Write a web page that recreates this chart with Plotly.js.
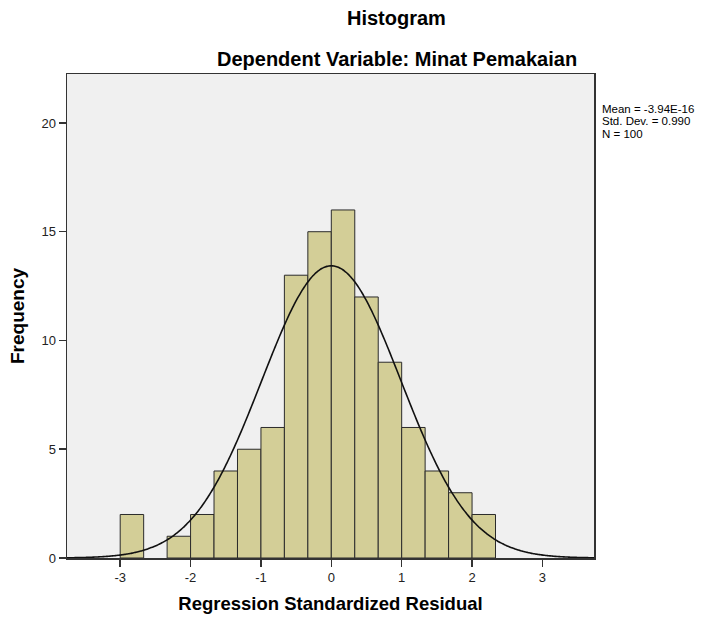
<!DOCTYPE html>
<html>
<head>
<meta charset="utf-8">
<script src="https://cdn.plot.ly/plotly-3.0.1.min.js"></script>
<style>body{margin:0;background:#fff;}#chart{width:717px;height:617px;}</style>
</head>
<body>
<div id="chart"></div>
<script>
// Data
const binLowerEdges = [-3.0, -2.3333, -2.0, -1.6667, -1.3333, -1.0, -0.6667, -0.3333, 0.0, 0.3333, 0.6667, 1.0, 1.3333, 1.6667, 2.0];
const binCounts     = [2,    1,       2,    4,       5,       6,    13,      15,      16,  12,     9,      6,   4,      3,      2];
const binWidth = 1/3;
const statMean = -3.94e-16;
const statSD = 0.990;
const statN = 100;
const statLines = ["Mean = -3.94E-16", "Std. Dev. = 0.990", "N = 100"];
const xTicks = [-3, -2, -1, 0, 1, 2, 3];
const yTicks = [0, 5, 10, 15, 20];

const xRange = [-3.756, 3.733];
const binCenters = binLowerEdges.map(e => e + binWidth / 2);

// fitted normal curve (from stated mean / std. dev. / N)
const curveX = [], curveY = [];
const nPts = 300;
for (let i = 0; i <= nPts; i++) {
  const x = xRange[0] + (xRange[1] - xRange[0]) * i / nPts;
  const z = (x - statMean) / statSD;
  curveX.push(x);
  curveY.push(statN * binWidth * Math.exp(-0.5 * z * z) / (statSD * Math.sqrt(2 * Math.PI)));
}

const traces = [
  {
    type: 'bar', x: binCenters, y: binCounts, width: binWidth,
    marker: {color: '#d3ce97', line: {color: '#2b2b2b', width: 1}},
    hoverinfo: 'skip'
  },
  {
    type: 'scatter', mode: 'lines', x: curveX, y: curveY,
    line: {color: '#111111', width: 1.6, shape: 'spline'},
    hoverinfo: 'skip'
  }
];

const font = "Arial, 'Liberation Sans', sans-serif";
const annotations = [
  {text: '<b>Histogram</b>', xref: 'paper', yref: 'paper', x: 0.625, y: (558 - 18.5) / 484, xanchor: 'center', yanchor: 'middle', showarrow: false, font: {family: font, size: 20, color: '#000'}},
  {text: '<b>Dependent Variable: Minat Pemakaian</b>', xref: 'paper', yref: 'paper', x: 0.627, y: (558 - 58.5) / 484, xanchor: 'center', yanchor: 'middle', showarrow: false, font: {family: font, size: 20, color: '#000'}}
];
statLines.forEach((t, i) => {
  annotations.push({text: t, xref: 'paper', yref: 'paper', x: 1.012, y: (558 - (109 + 12.3 * i)) / 484, xanchor: 'left', yanchor: 'middle', showarrow: false, font: {family: font, size: 11.5, color: '#000'}});
});

const layout = {
  width: 717, height: 617,
  margin: {l: 67, r: 123, t: 74, b: 59},
  paper_bgcolor: '#ffffff', plot_bgcolor: '#f0f0f0',
  showlegend: false, bargap: 0,
  font: {family: font, color: '#222'},
  xaxis: {
    range: xRange, tickvals: xTicks, ticktext: xTicks.map(String),
    showgrid: false, zeroline: false,
    showline: true, linecolor: '#333', linewidth: 1.5, mirror: true,
    ticks: 'outside', ticklen: 7, tickcolor: '#333', tickwidth: 1.5,
    tickfont: {size: 13, color: '#222'},
    title: {text: '<b>Regression Standardized Residual</b>', font: {size: 18.5, color: '#000'}, standoff: 13}
  },
  yaxis: {
    range: [0, 22.25], tickvals: yTicks, ticktext: yTicks.map(String),
    showgrid: false, zeroline: false,
    showline: true, linecolor: '#333', linewidth: 1.5, mirror: true,
    ticks: 'outside', ticklen: 7, tickcolor: '#333', tickwidth: 1.5,
    tickfont: {size: 13, color: '#222'},
    title: {text: '<b>Frequency</b>', font: {size: 19, color: '#000'}, standoff: 12}
  },
  annotations: annotations
};

Plotly.newPlot('chart', traces, layout, {displayModeBar: false, staticPlot: true});
</script>
</body>
</html>
